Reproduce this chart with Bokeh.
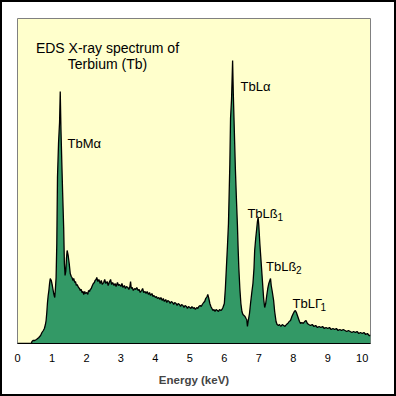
from bokeh.plotting import figure
from bokeh.models import Range1d, FixedTicker, ColumnDataSource
from bokeh.core.properties import value
from bokeh.embed import file_html
from bokeh.resources import INLINE

# ---- data (energy in keV, counts in arbitrary units) ----
energy_kev = [
    0.00, 0.40, 0.42, 0.45, 0.50, 0.55, 0.62, 0.67, 0.71, 0.75, 0.78, 0.81, 0.83, 0.85, 0.87, 0.89,
    0.91, 0.93, 0.95, 0.98, 1.01, 1.03, 1.05, 1.08, 1.10, 1.12, 1.14, 1.16, 1.19, 1.22, 1.24, 1.26,
    1.29, 1.31, 1.34, 1.36, 1.38, 1.40, 1.42, 1.44, 1.47, 1.50, 1.53, 1.56, 1.58, 1.61, 1.63, 1.66,
    1.68, 1.71, 1.73, 1.77, 1.80, 1.82, 1.85, 1.87, 1.90, 1.92, 1.95, 1.97, 2.01, 2.04, 2.06, 2.09,
    2.11, 2.14, 2.16, 2.20, 2.23, 2.25, 2.28, 2.30, 2.33, 2.36, 2.40, 2.43, 2.46, 2.50, 2.53, 2.56,
    2.60, 2.63, 2.66, 2.70, 2.73, 2.76, 2.80, 2.83, 2.86, 2.90, 2.93, 2.96, 3.00, 3.03, 3.06, 3.10,
    3.13, 3.16, 3.20, 3.23, 3.26, 3.28, 3.30, 3.33, 3.36, 3.40, 3.43, 3.46, 3.50, 3.53, 3.56, 3.60,
    3.63, 3.66, 3.70, 3.73, 3.76, 3.80, 3.83, 3.86, 3.90, 3.93, 3.96, 4.00, 4.03, 4.06, 4.10, 4.13,
    4.16, 4.20, 4.23, 4.26, 4.30, 4.33, 4.36, 4.40, 4.43, 4.46, 4.50, 4.53, 4.56, 4.60, 4.63, 4.66,
    4.70, 4.73, 4.76, 4.80, 4.83, 4.86, 4.90, 4.93, 4.96, 5.00, 5.03, 5.06, 5.10, 5.13, 5.16, 5.20,
    5.23, 5.26, 5.30, 5.33, 5.36, 5.40, 5.43, 5.46, 5.50, 5.52, 5.55, 5.58, 5.61, 5.64, 5.67, 5.70,
    5.73, 5.76, 5.80, 5.83, 5.86, 5.90, 5.93, 5.96, 6.00, 6.03, 6.06, 6.09, 6.12, 6.14, 6.16, 6.18,
    6.21, 6.24, 6.26, 6.28, 6.30, 6.32, 6.35, 6.38, 6.40, 6.42, 6.45, 6.48, 6.51, 6.54, 6.57, 6.60,
    6.63, 6.65, 6.67, 6.69, 6.71, 6.73, 6.76, 6.80, 6.83, 6.86, 6.88, 6.91, 6.94, 6.96, 6.98, 7.00,
    7.03, 7.05, 7.07, 7.10, 7.12, 7.14, 7.17, 7.20, 7.23, 7.26, 7.29, 7.32, 7.34, 7.36, 7.39, 7.43,
    7.46, 7.50, 7.53, 7.57, 7.60, 7.64, 7.68, 7.72, 7.76, 7.80, 7.84, 7.88, 7.92, 7.96, 8.00, 8.03,
    8.06, 8.09, 8.12, 8.15, 8.18, 8.21, 8.25, 8.29, 8.33, 8.37, 8.41, 8.45, 8.50, 8.55, 8.60, 8.65,
    8.70, 8.75, 8.80, 8.85, 8.90, 8.95, 9.00, 9.05, 9.10, 9.15, 9.20, 9.25, 9.30, 9.35, 9.40, 9.45,
    9.50, 9.55, 9.60, 9.65, 9.70, 9.75, 9.80, 9.85, 9.90, 9.95, 10.00, 10.05, 10.10, 10.15, 10.20, 10.24,
]
counts = [
    0, 0, 2, 3, 3, 4, 6, 8, 11, 13, 15, 19, 23, 31, 41, 48,
    53, 60, 65, 63, 58, 54, 50, 46, 55, 66, 100, 166, 200, 221, 252, 215,
    175, 150, 115, 80, 68, 72, 85, 93, 88, 80, 70, 67, 66, 63, 65, 61,
    62, 58, 59, 56, 55, 53, 54, 51, 52, 49, 52, 50, 51, 49, 53, 52,
    54, 55, 57, 60, 61, 63, 64, 66, 62, 64, 60, 63, 59, 61, 64, 60,
    62, 58, 61, 64, 59, 61, 58, 60, 57, 61, 58, 59, 57, 60, 56, 58,
    55, 57, 56, 54, 57, 62, 55, 56, 53, 55, 54, 56, 53, 54, 51, 53,
    55, 51, 52, 50, 52, 49, 51, 48, 50, 47, 48, 46, 47, 45, 46, 44,
    46, 43, 45, 42, 44, 41, 43, 42, 40, 42, 41, 39, 41, 40, 38, 40,
    39, 37, 39, 38, 36, 38, 37, 35, 37, 36, 35, 37, 35, 36, 34, 36,
    35, 37, 38, 37, 39, 41, 42, 45, 47, 49, 45, 40, 37, 35, 33, 34,
    32, 34, 33, 32, 34, 33, 34, 36, 40, 55, 76, 97, 120, 150, 180, 225,
    245, 283, 250, 225, 200, 175, 145, 118, 95, 76, 55, 40, 32, 29, 28, 27,
    25, 24, 17, 22, 26, 30, 40, 52, 60, 75, 93, 105, 115, 122, 126, 118,
    100, 90, 80, 65, 55, 45, 36, 40, 48, 55, 60, 63, 65, 58, 52, 43,
    32, 22, 19, 18, 19, 17, 19, 18, 17, 19, 20, 22, 23, 27, 30, 32,
    33, 31, 28, 25, 22, 20, 21, 20, 22, 23, 20, 19, 18, 19, 17, 18,
    16, 17, 16, 17, 15, 16, 15, 16, 14, 15, 14, 15, 13, 14, 13, 14,
    13, 12, 13, 12, 11, 12, 11, 12, 10, 11, 10, 11, 9, 10, 8, 8,
]

tick_values = [0, 1, 2, 3, 4, 5, 6, 7, 8, 9, 10]
tick_labels = ["0", "1", "2", "3", "4", "5", "6", "7", "8", "9", "10"]

title_lines = ["EDS X-ray spectrum of", "Terbium (Tb)"]
title_x = [2.61, 2.61]
title_y = [296, 279.5]

peak_names = ["TbMα", "TbLα", "TbLß", "TbLß", "TbLΓ"]
peak_subs = ["", "", "1", "2", "1"]
peak_x = [1.45, 6.47, 6.67, 7.21, 7.98]
peak_y = [200, 257, 130, 77, 40]
sub_dx = [0, 0, 30, 30, 28]

FONT = "Liberation Sans"

p = figure(width=396, height=396, output_backend="svg", toolbar_location=None,
           x_range=Range1d(0, 10.24), y_range=Range1d(0, 325),
           y_axis_location=None,
           min_border_left=15, min_border_top=16, min_border_right=28, min_border_bottom=55)
p.background_fill_color = "#FFFFCC"
p.border_fill_color = "white"
p.outline_line_color = "#808080"
p.outline_line_width = 1
p.grid.visible = False

spec = ColumnDataSource(dict(x=energy_kev, y=counts))
p.varea(x="x", y1=0, y2="y", source=spec, fill_color="#339966")
p.line(x="x", y="y", source=spec, line_color="black", line_width=1.3)

ax = p.xaxis[0]
ax.ticker = FixedTicker(ticks=tick_values)
ax.major_label_overrides = {t: l for t, l in zip(tick_values, tick_labels)}
ax.axis_line_color = "black"
ax.axis_line_width = 1
ax.major_tick_line_color = None
ax.minor_tick_line_color = None
ax.major_tick_in = 0
ax.major_tick_out = 0
ax.major_label_standoff = 10
ax.major_label_text_font = FONT
ax.major_label_text_font_size = "11px"
ax.major_label_text_color = "black"
ax.axis_label = "Energy (keV)"
ax.axis_label_text_font = FONT
ax.axis_label_text_font_style = "bold"
ax.axis_label_text_font_size = "11.5px"
ax.axis_label_standoff = 9

p.text(x=title_x, y=title_y, text=title_lines, text_font=value(FONT),
       text_font_size="14px", text_align="center", text_baseline="alphabetic",
       text_color="black")

p.text(x=peak_x, y=peak_y, text=peak_names, text_font=value(FONT),
       text_font_size="13px", text_align="left", text_baseline="alphabetic",
       text_color="black")
p.text(x=peak_x, y=peak_y, text=peak_subs, x_offset=sub_dx, y_offset=3,
       text_font=value(FONT), text_font_size="10px", text_align="left",
       text_baseline="alphabetic", text_color="black")

p.styles = {"border": "2px solid black"}

open("out.html", "w").write(file_html(p, INLINE))
